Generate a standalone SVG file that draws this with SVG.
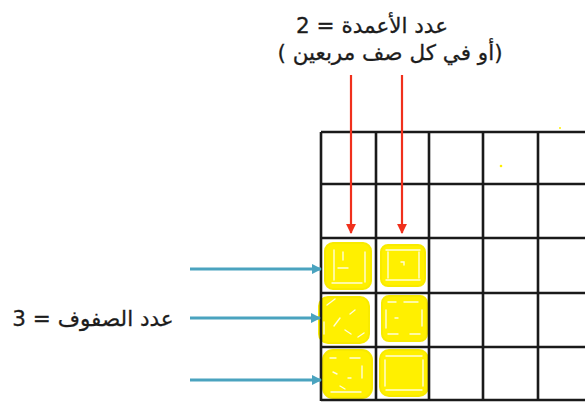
<svg xmlns="http://www.w3.org/2000/svg" width="585" height="404" viewBox="0 0 585 404">
<defs>
<style>
.lbl{font-family:"DejaVu Sans","Noto Sans",sans-serif;font-size:21.5px;fill:#1c1c1c;stroke:#1c1c1c;stroke-width:0.3;direction:rtl;unicode-bidi:embed}
.grid{stroke:#1a1a1a;stroke-width:2.6;fill:none}
.red{stroke:#f0301c;stroke-width:2.2;fill:none}
.blue{stroke:#4aa3bf;stroke-width:3;fill:none}
.yel{fill:#fff000;stroke:#f8ea00;stroke-width:2}
.hl{stroke:#ffffff;stroke-width:1.4;fill:none;stroke-linecap:round;opacity:0.85}
</style>
<marker id="ahR" viewBox="0 0 10 10" refX="9" refY="5" markerWidth="4.5" markerHeight="4.5" orient="auto"><path d="M0,0 L10,5 L0,10 z" fill="#f0301c"/></marker>
<marker id="ahB" viewBox="0 0 10 10" refX="9" refY="5" markerWidth="3.5" markerHeight="3.5" orient="auto"><path d="M0,0 L10,5 L0,10 z" fill="#4aa3bf"/></marker>
</defs>
<rect width="585" height="404" fill="#ffffff"/>
<g id="yellow">
<rect class="yel" x="325" y="243" width="46" height="46" rx="8"/>
<rect class="yel" x="381" y="245" width="44" height="41" rx="7"/>
<rect class="yel" x="319" y="297" width="50" height="46" rx="9"/>
<rect class="yel" x="382" y="296" width="45" height="45" rx="7"/>
<rect class="yel" x="323" y="350" width="49" height="48" rx="10"/>
<rect class="yel" x="380" y="350" width="48" height="46" rx="9"/>
<path class="hl" d="M343,252 v8 M338,268 h10 M334,250 v30 M365,252 v30 M332,283 h30"/>
<path class="hl" d="M386,250 h34 M386,280 h34 M388,252 v26 M419,252 v26 M401,262 h3 v3"/>
<path class="hl" d="M327,305 l8,-6 M340,318 l-6,8 M355,310 l-5,4 M345,330 l6,4 M324,322 v12 M358,337 l6,-4"/>
<path class="hl" d="M388,302 h8 M404,302 h14 M388,334 h10 M410,334 h10 M386,310 v18 M422,310 v16 M395,318 h3"/>
<path class="hl" d="M330,358 h6 M350,358 h10 M333,372 l4,2 M348,378 h3 M340,386 l5,3 M331,392 h30 M362,366 v12"/>
<path class="hl" d="M386,356 h36 M386,390 h36 M385,360 v26 M423,360 v26"/>
<circle cx="501" cy="166" r="1.3" fill="#fff000"/>
<circle cx="560" cy="128" r="1" fill="#fff000"/>
</g>
<g id="grid">
<path class="grid" d="M321,132 H585 M321,184 H585 M321,238 H585 M321,293 H585 M321,347 H585 M321,400 H585"/>
<path class="grid" d="M321,132 V401 M376,132 V401 M429,132 V401 M483,132 V401 M538,132 V401"/>
</g>
<g id="connectors">
<line class="red" x1="351" y1="75" x2="351" y2="233" marker-end="url(#ahR)"/>
<line class="red" x1="402" y1="75" x2="402" y2="233" marker-end="url(#ahR)"/>
<line class="blue" x1="190" y1="269" x2="321" y2="269" marker-end="url(#ahB)"/>
<line class="blue" x1="190" y1="318" x2="320" y2="318" marker-end="url(#ahB)"/>
<line class="blue" x1="190" y1="380" x2="321" y2="380" marker-end="url(#ahB)"/>
</g>
<g id="label-columns">
<text class="lbl" x="372" y="33" text-anchor="middle">عدد الأعمدة = 2</text>
<text class="lbl" x="390" y="60" text-anchor="middle">(أو في كل صف مربعين )</text>
</g>
<g id="label-rows">
<text class="lbl" x="93" y="326" text-anchor="middle">عدد الصفوف = 3</text>
</g>
</svg>
